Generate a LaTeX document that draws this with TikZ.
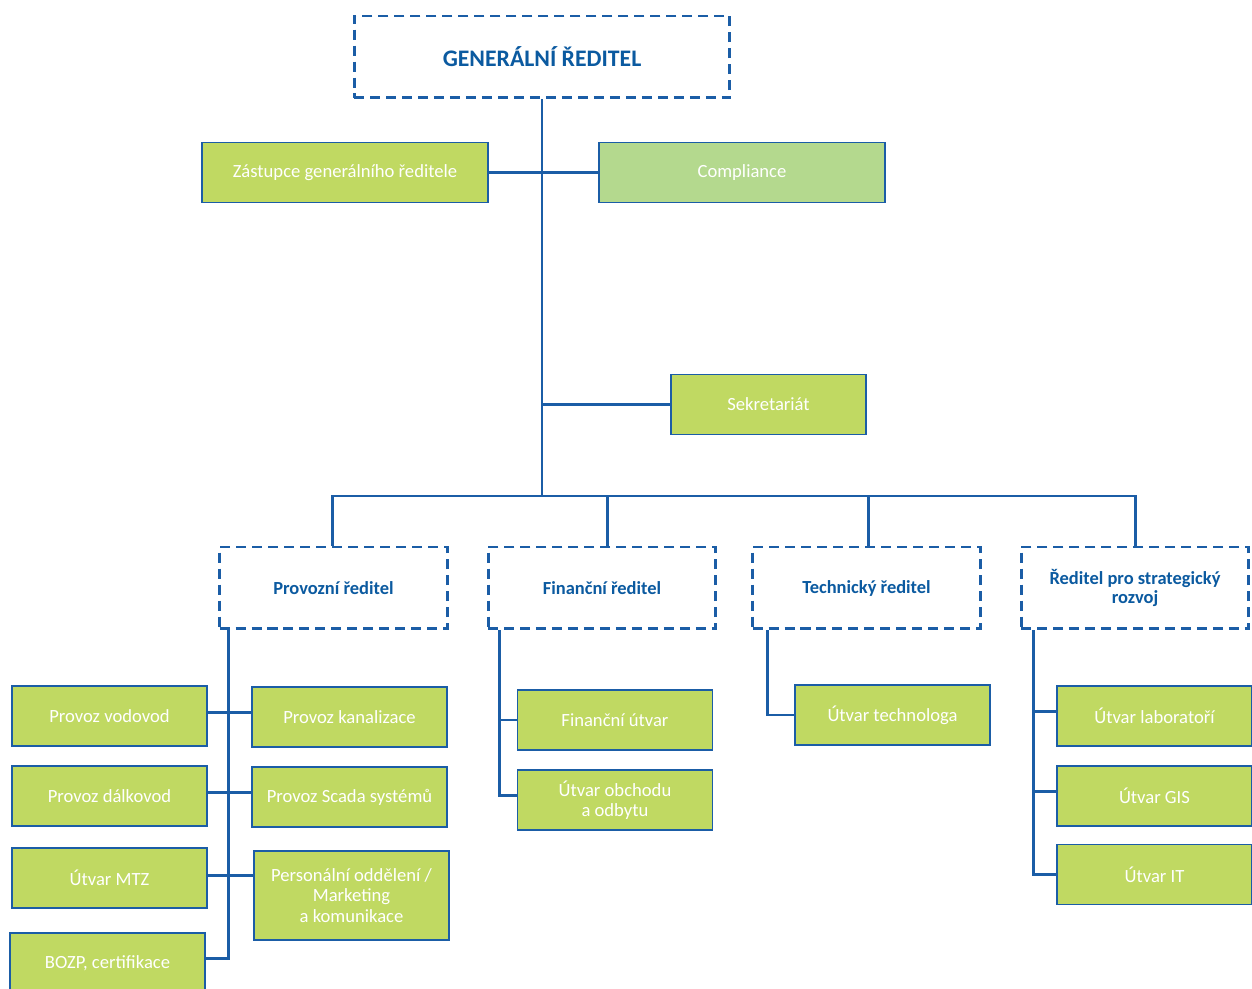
\documentclass[tikz,border=0pt]{standalone}
\usepackage{fontspec}
\setmainfont{Carlito}
\usetikzlibrary{positioning}
\definecolor{orgblue}{HTML}{1B5DA6}
\definecolor{orgtext}{HTML}{0B5AA0}
\definecolor{orggreen}{HTML}{C0D962}
\definecolor{orglight}{HTML}{B4D98E}
\tikzset{
  conn/.style={orgblue, line width=1.7pt},
  dirbox/.style={draw=orgblue, line width=1.7pt, dash pattern=on 5.7pt off 3.4pt,
    fill=white, text=orgtext, font=\bfseries\fontsize{10.5}{11}\selectfont,
    align=center, minimum height=1.64cm, inner sep=2pt},
  unitbox/.style={draw=orgblue, line width=0.7pt, fill=orggreen, text=white,
    font=\fontsize{10.6}{11.5}\selectfont, align=center, minimum width=3.9cm,
    minimum height=1.2cm, inner sep=2pt},
}
\begin{document}
\begin{tikzpicture}[x=0.02cm, y=-0.02cm]
    \useasboundingbox (0,0) rectangle (1252,989);

    % Top level
    \node[dirbox, minimum width=7.52cm, font=\bfseries\fontsize{13.5}{14}\selectfont] (gr) at (542,57) {GENERÁLNÍ ŘEDITEL};
    \node[unitbox, minimum width=5.72cm] (zast) at (345,172.5) {Zástupce generálního ředitele};
    \node[unitbox, minimum width=5.72cm, fill=orglight] (compl) at (742,172.5) {Compliance};
    \node[unitbox] (sekr) at (768.5,404.5) {Sekretariát};

    % Directors
    \node[dirbox, minimum width=4.56cm] (prov) at (333.5,588) {Provozní ředitel};
    \node[dirbox, minimum width=4.56cm] (fin) at (602,588) {Finanční ředitel};
    \node[dirbox, minimum width=4.56cm] (tech) at (866.5,588) {Technický ředitel};
    \node[dirbox, minimum width=4.56cm] (strat) at (1135,588) {Ředitel pro strategický\\rozvoj};

    % Provozni units
    \node[unitbox] (vod) at (109.5,716) {Provoz vodovod};
    \node[unitbox] (dalk) at (109.5,796) {Provoz dálkovod};
    \node[unitbox] (mtz) at (109.5,878) {Útvar MTZ};
    \node[unitbox] (bozp) at (107.5,963) {BOZP, certifikace};
    \node[unitbox] (kan) at (349.5,717) {Provoz kanalizace};
    \node[unitbox] (scada) at (349.5,797) {Provoz Scada systémů};
    \node[unitbox, minimum height=1.78cm] (pers) at (351.5,895.5) {Personální oddělení /\\Marketing\\a komunikace};

    % Financni units
    \node[unitbox] (futv) at (615,720) {Finanční útvar};
    \node[unitbox] (obch) at (615,800) {Útvar obchodu\\a odbytu};

    % Technicky unit
    \node[unitbox] (techn) at (892.5,715) {Útvar technologa};

    % Strategicky units
    \node[unitbox] (lab) at (1154.5,716) {Útvar laboratoří};
    \node[unitbox] (gis) at (1154.5,796) {Útvar GIS};
    \node[unitbox] (it) at (1154.5,874.5) {Útvar IT};

    % Trunk and bus
    \coordinate (bus) at (542,496);
    \draw[conn] (gr.south) -- (bus);
    \draw[conn] (zast.east) -- (compl.west);
    \draw[conn] (sekr.west) -- (sekr.west -| bus);
    \draw[conn] ([xshift=-0.8pt]prov.north) |- (bus) -| ([xshift=3.4pt]fin.north);
    \draw[conn] (bus) -| ([xshift=1.4pt]tech.north);
    \draw[conn] (bus) -| (strat.north);

    % Provozni branch
    \draw[conn] ([xshift=5.7pt]prov.south west) |- ([yshift=2.8pt]bozp.east);
    \draw[conn] ([yshift=2pt]vod.east) -- ([yshift=2pt]vod.east -| kan.west);
    \draw[conn] ([yshift=2pt]dalk.east) -- ([yshift=2pt]dalk.east -| scada.west);
    \draw[conn] ([yshift=1.7pt]mtz.east) -- ([yshift=1.7pt]mtz.east -| pers.west);

    % Financni branch
    \draw[conn] ([xshift=7.4pt]fin.south west) |- (futv.west);
    \draw[conn] ([xshift=7.4pt]fin.south west) |- ([yshift=2.3pt]obch.west);

    % Technicky branch
    \draw[conn] ([xshift=9.6pt]tech.south west) |- (techn.west);

    % Strategicky branch
    \draw[conn] ([xshift=8pt]strat.south west) |- (it.west);
    \draw[conn] ([xshift=8pt]strat.south west) |- ([yshift=2.3pt]lab.west);
    \draw[conn] ([xshift=8pt]strat.south west) |- ([yshift=2.3pt]gis.west);
\end{tikzpicture}
\end{document}
